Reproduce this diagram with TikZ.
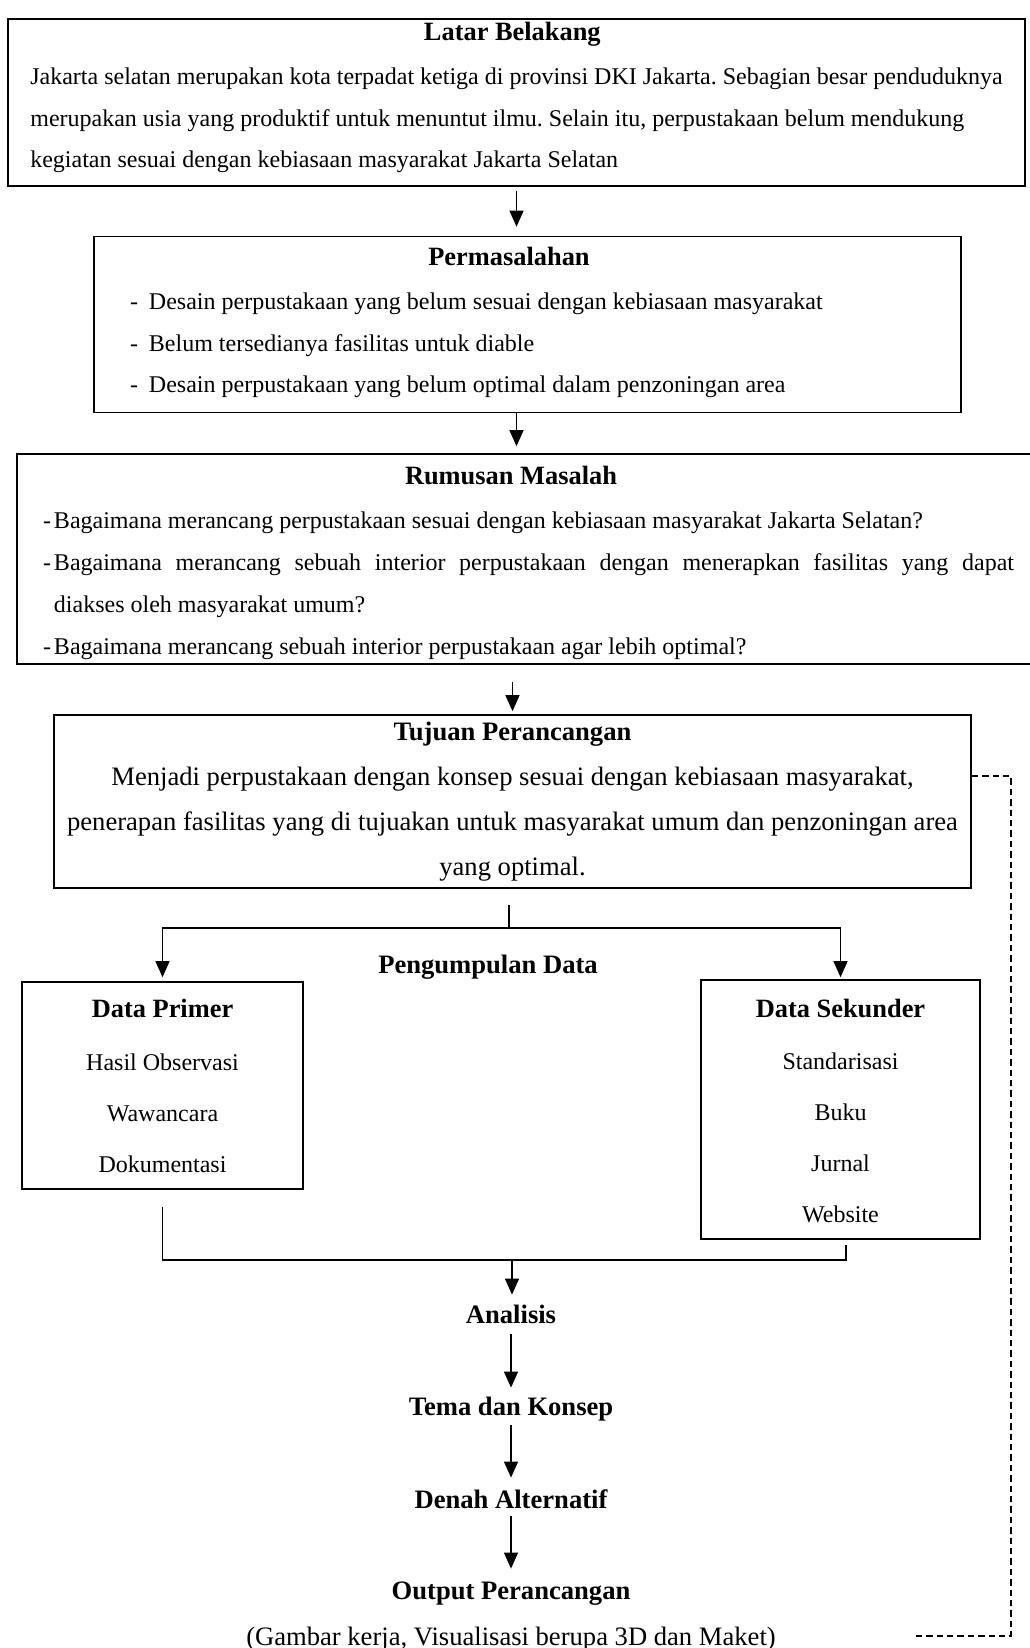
\documentclass[tikz,border=0pt]{standalone}
\usepackage{fontspec}
\setmainfont{Liberation Serif}
\usetikzlibrary{positioning, arrows.meta}
\frenchspacing

\newcommand{\boxhead}[1]{{\fontsize{13.2}{16}\selectfont\bfseries #1}}

\begin{document}
\begin{tikzpicture}[x=0.5pt, y=-0.5pt,
    box/.style={draw, line width=0.8pt, rectangle, inner sep=0pt, font=\fontsize{12}{20.7}\selectfont},
    txt/.style={inner sep=0pt, text height=9pt, text depth=3pt, font=\fontsize{13.3}{16}\selectfont},
    head/.style={txt, font=\fontsize{13.3}{16}\selectfont\bfseries},
    flow/.style={line width=0.6pt, -{Triangle[length=8pt, width=7pt]}},
    link/.style={line width=0.6pt},
    feedback/.style={line width=0.6pt, dash pattern=on 3.2pt off 2pt}]

    \useasboundingbox (0,0) rectangle (1029,1648);

    % Define the boxes
    % Latar belakang
    \node[box, minimum width=508.5pt, minimum height=83.5pt, align=left, text depth=7.6pt] (lb) at (516.5,102.5)
        {\makebox[486pt]{\hspace*{-4pt}\boxhead{Latar Belakang}}\\[1.5pt]
         Jakarta selatan merupakan kota terpadat ketiga di provinsi DKI Jakarta. Sebagian besar penduduknya\\
         merupakan usia yang produktif untuk menuntut ilmu. Selain itu, perpustakaan belum mendukung\\
         kegiatan sesuai dengan kebiasaan masyarakat Jakarta Selatan};

    % Permasalahan
    \node[box, minimum width=433.5pt, minimum height=88pt, align=left, text depth=4.6pt] (pm) at (527.5,324.5)
        {\makebox[397.5pt]{\hspace*{-18.5pt}\boxhead{Permasalahan}}\\[1.5pt]
         \makebox[9.5pt][l]{-}Desain perpustakaan yang belum sesuai dengan kebiasaan masyarakat\\
         \makebox[9.5pt][l]{-}Belum tersedianya fasilitas untuk diable\\
         \makebox[9.5pt][l]{-}Desain perpustakaan yang belum optimal dalam penzoningan area};

    % Rumusan masalah
    \node[box, minimum width=512pt, minimum height=105pt, align=left, font=\fontsize{12}{21}\selectfont] (rm) at (529,559)
        {\makebox[486pt]{\rule{0pt}{13pt}\hspace*{-18pt}\boxhead{Rumusan Masalah}}\\[1pt]
         \makebox[5.5pt][l]{-}Bagaimana merancang perpustakaan sesuai dengan kebiasaan masyarakat Jakarta Selatan?\\
         \makebox[5.5pt][l]{-}\makebox[480pt][s]{Bagaimana merancang sebuah interior perpustakaan dengan menerapkan fasilitas yang dapat}\\
         \hspace*{5.5pt}diakses oleh masyarakat umum?\\
         \makebox[5.5pt][l]{-}Bagaimana merancang sebuah interior perpustakaan agar lebih optimal?};

    % Tujuan perancangan
    \node[box, minimum width=458.5pt, minimum height=86.5pt, align=center, font=\fontsize{13.3}{22.5}\selectfont] (tp) at (512.5,801.5)
        {\textbf{Tujuan Perancangan}\\
         Menjadi perpustakaan dengan konsep sesuai dengan kebiasaan masyarakat,\\
         penerapan fasilitas yang di tujuakan untuk masyarakat umum dan penzoningan area\\
         yang optimal.};

    % Pengumpulan data
    \node[head] (pd) at (488,967) {Pengumpulan Data};

    \node[box, minimum width=140.5pt, minimum height=103.5pt, align=center, font=\fontsize{12}{25.5}\selectfont] (dp) at (162.5,1085.5)
        {\boxhead{Data Primer}\\[1pt]
         Hasil Observasi\\
         Wawancara\\
         Dokumentasi};

    \node[box, minimum width=139.5pt, minimum height=129.5pt, align=center, font=\fontsize{12}{25.5}\selectfont] (ds) at (840.5,1109.5)
        {\rule{0pt}{11pt}\boxhead{Data Sekunder}\\[0.5pt]
         Standarisasi\\
         Buku\\
         Jurnal\\
         Website};

    % Steps below
    \node[head] (an) at (511,1317) {Analisis};
    \node[head] (tk) at (511,1409) {Tema dan Konsep};
    \node[head] (dn) at (511,1502) {Denah Alternatif};
    \node[head] (op) at (511,1593) {Output Perancangan};
    \node[txt] (opket) at (511,1639) {(Gambar kerja, Visualisasi berupa 3D dan Maket)};

    % Helper points
    \coordinate (sp) at (509,928);
    \coordinate (mg) at (512,1260);
    \coordinate (fbc) at (1011,1636);
    \coordinate (fb) at (912,1636);

    % Draw the Edges
    \draw[flow, shorten <=2pt, shorten >=4.5pt] (lb.south) -- (lb.south |- pm.north);
    \draw[flow, shorten >=3.5pt] (lb.south |- pm.south) -- (lb.south |- rm.north);
    \draw[flow, shorten <=8.5pt, shorten >=1.5pt] (rm.south -| tp.north) -- (tp.north);

    % Split to the data boxes
    \draw[link, shorten <=8pt] (sp |- tp.south) -- (sp);
    \draw[flow, shorten >=2pt] (sp) -| (dp.north);
    \draw[flow, shorten >=1pt] (sp) -| (ds.north);

    % Merge to analisis
    \draw[link, shorten <=8.5pt, shorten >=2.5pt] (dp.south) |- (mg) -| ([xshift=2.75pt]ds.south);
    \draw[flow, shorten >=5pt] (mg) -- (mg |- an.north);

    \draw[flow, shorten <=2.5pt, shorten >=4.5pt] (an) -- (tk);
    \draw[flow, shorten <=2pt, shorten >=6pt] (tk) -- (dn);
    \draw[flow, shorten <=1pt, shorten >=6pt] (dn) -- (op);

    % Feedback line
    \draw[feedback] ([yshift=12.75pt]tp.east) -| (fbc) -- (fb);
\end{tikzpicture}
\end{document}
